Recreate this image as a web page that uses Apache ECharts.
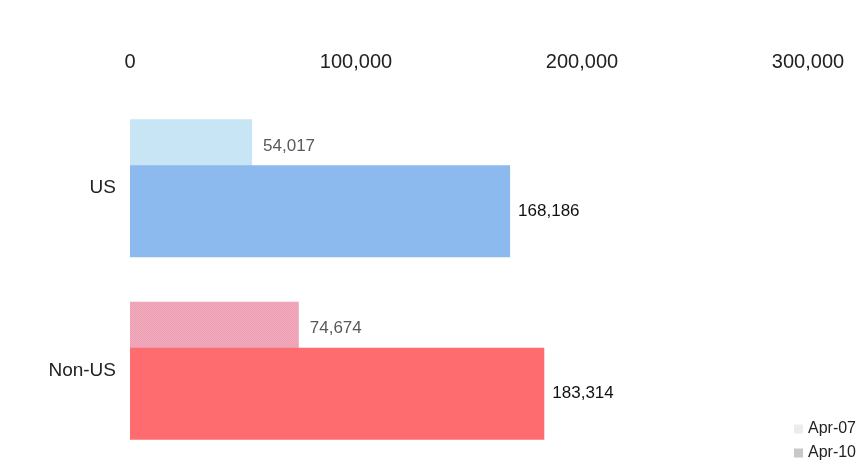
<!DOCTYPE html>
<html>
<head>
<meta charset="utf-8">
<script src="https://cdn.jsdelivr.net/npm/echarts@6/dist/echarts.min.js"></script>
<style>
  html, body { margin: 0; padding: 0; background: #fff; }
  #chart { width: 865px; height: 475px; }
</style>
</head>
<body>
<div id="chart"></div>
<script>
// Regions on the category axis, top to bottom
const categories = ['US', 'Non-US'];
// Values per snapshot
const apr07 = [54017, 74674];
const apr10 = [168186, 183314];
// Value-axis ticks
const axisMin = 0;
const axisMax = 300000;
const axisStep = 100000;

const FONT = '"Liberation Sans", Arial, sans-serif';
const darkColors = ['#8cb9ee', '#ff6c6f'];

// Fine dotted fill for the Non-US Apr-07 bar
function dotPattern(bg, dot) {
  const c = document.createElement('canvas');
  c.width = 2; c.height = 2;
  const g = c.getContext('2d');
  g.fillStyle = bg; g.fillRect(0, 0, 2, 2);
  g.fillStyle = dot; g.fillRect(0, 0, 1, 1); g.fillRect(1, 1, 1, 1);
  return { image: c, repeat: 'repeat' };
}
const lightColors = ['#c8e5f5', dotPattern('#f3adbf', '#ea9db1')];

function fmt(v) { return v.toLocaleString('en-US'); }

const chart = echarts.init(document.getElementById('chart'), null, { renderer: 'canvas' });

chart.setOption({
  animation: false,
  backgroundColor: '#fff',
  grid: { left: 130, top: 97, width: 678, height: 365, containLabel: false },
  legend: {
    orient: 'vertical',
    right: 4,
    bottom: 9,
    itemWidth: 9,
    itemHeight: 9,
    itemGap: 8,
    icon: 'rect',
    textStyle: { fontFamily: FONT, fontSize: 16, color: '#222' },
    data: ['Apr-07', 'Apr-10']
  },
  xAxis: {
    type: 'value',
    position: 'top',
    min: axisMin,
    max: axisMax,
    interval: axisStep,
    axisLine: { show: false },
    axisTick: { show: false },
    splitLine: { show: false },
    axisLabel: {
      margin: 25,
      fontFamily: FONT,
      fontSize: 20,
      color: '#222',
      formatter: v => fmt(v)
    }
  },
  yAxis: {
    type: 'category',
    inverse: true,
    data: categories,
    axisLine: { show: false },
    axisTick: { show: false },
    axisLabel: { margin: 14, fontFamily: FONT, fontSize: 19, color: '#222' }
  },
  series: [
    {
      name: 'Apr-07',
      type: 'bar',
      barWidth: 92,
      barGap: '-50%',
      itemStyle: { color: '#ececec' },
      data: apr07.map((v, i) => ({
        value: v,
        itemStyle: { color: lightColors[i] }
      })),
      label: {
        show: true,
        position: 'right',
        distance: 11,
        offset: [0, -19],
        fontFamily: FONT,
        fontSize: 17,
        color: '#595959',
        formatter: p => fmt(p.value)
      }
    },
    {
      name: 'Apr-10',
      type: 'bar',
      barWidth: 92,
      itemStyle: { color: '#c8c8c8' },
      data: apr10.map((v, i) => ({
        value: v,
        itemStyle: { color: darkColors[i] }
      })),
      label: {
        show: true,
        position: 'right',
        distance: 8,
        fontFamily: FONT,
        fontSize: 17,
        color: '#111',
        formatter: p => fmt(p.value)
      }
    }
  ]
});
</script>
</body>
</html>
